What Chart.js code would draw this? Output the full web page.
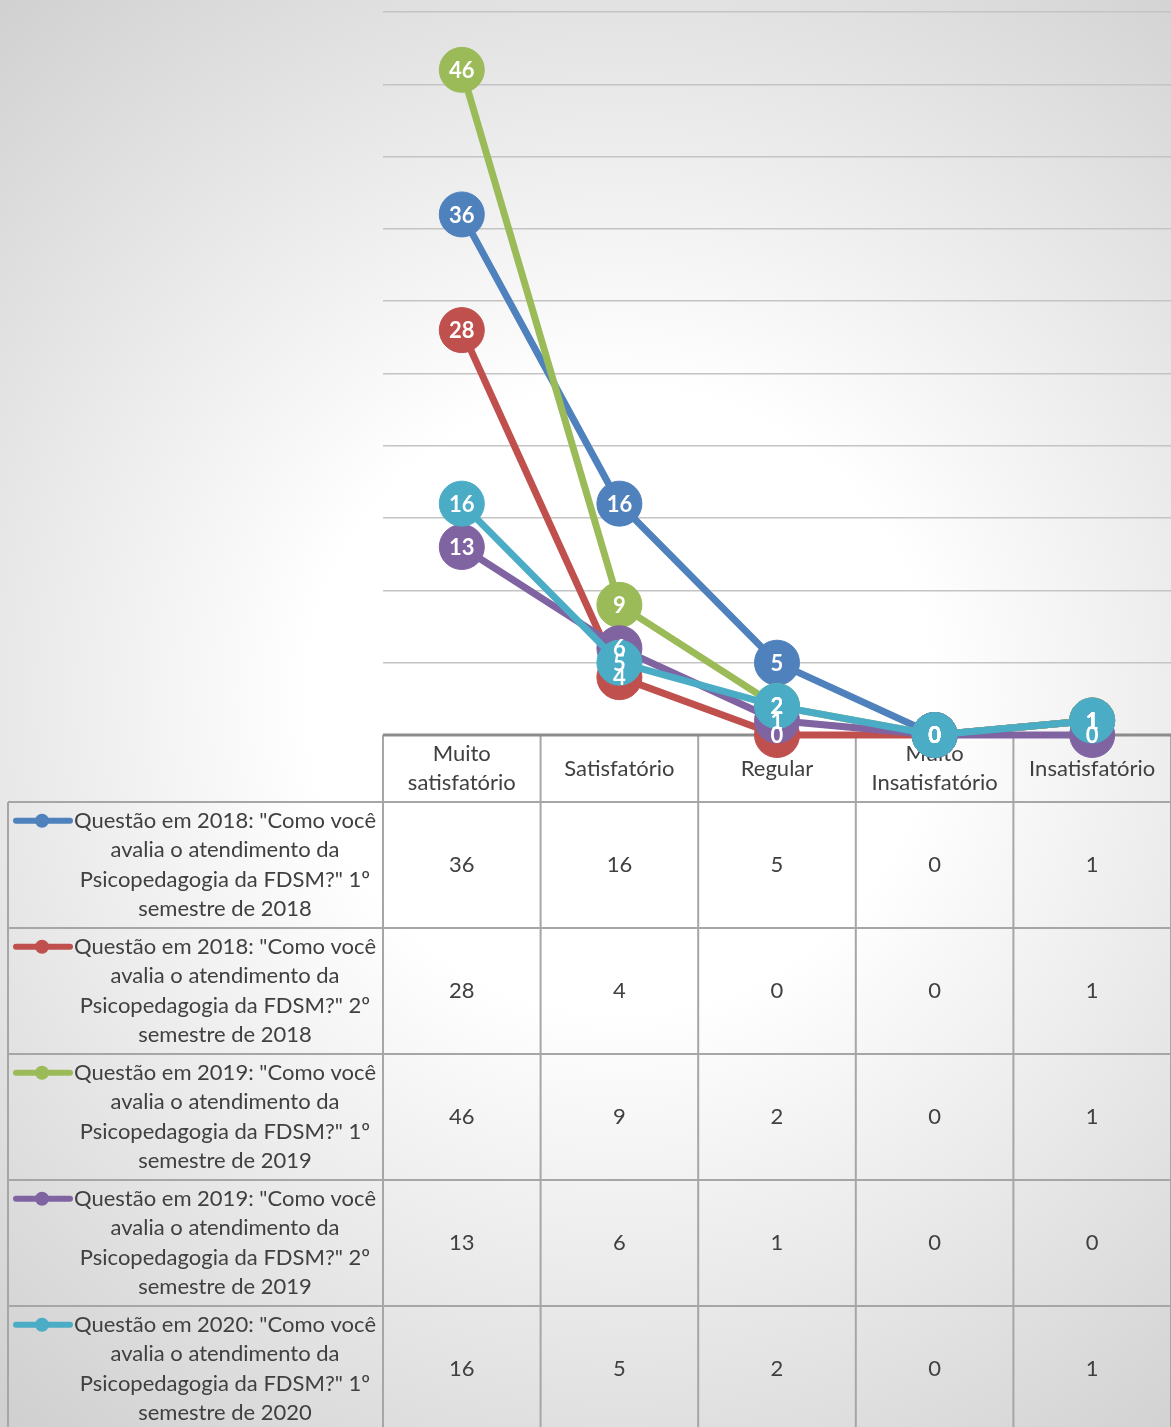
<!DOCTYPE html>
<html>
<head>
<meta charset="utf-8">
<script src="https://cdn.jsdelivr.net/npm/chart.js@4/dist/chart.umd.min.js"></script>
<style>
  body { margin: 0; background: #fff; }
  #wrap { width: 1171px; height: 1427px; }
</style>
</head>
<body>
<div id="wrap"><canvas id="chart" width="1171" height="1427"></canvas></div>
<script>
// Categories (header row of the data table)
const categories = [['Muito', 'satisfatório'], 'Satisfatório', 'Regular', ['Muito', 'Insatisfatório'], 'Insatisfatório'];

// Series names, wrapped as in the legend cells
const seriesNames = [
  ['Questão em 2018: "Como você', 'avalia o atendimento da', 'Psicopedagogia da FDSM?" 1º', 'semestre de 2018'],
  ['Questão em 2018: "Como você', 'avalia o atendimento da', 'Psicopedagogia da FDSM?" 2º', 'semestre de 2018'],
  ['Questão em 2019: "Como você', 'avalia o atendimento da', 'Psicopedagogia da FDSM?" 1º', 'semestre de 2019'],
  ['Questão em 2019: "Como você', 'avalia o atendimento da', 'Psicopedagogia da FDSM?" 2º', 'semestre de 2019'],
  ['Questão em 2020: "Como você', 'avalia o atendimento da', 'Psicopedagogia da FDSM?" 1º', 'semestre de 2020']
];

// Values per series
const sem1_2018 = [36, 16, 5, 0, 1];
const sem2_2018 = [28, 4, 0, 0, 1];
const sem1_2019 = [46, 9, 2, 0, 1];
const sem2_2019 = [13, 6, 1, 0, 0];
const sem1_2020 = [16, 5, 2, 0, 1];

const seriesValues = [sem1_2018, sem2_2018, sem1_2019, sem2_2019, sem1_2020];
const colors = ['#4f81bd', '#c0504d', '#9bbb59', '#8064a2', '#4bacc6'];

const FONT = 'Lato, "Open Sans", sans-serif';
const TEXT = '#404040';
const BORDER = '#a6a6a6';

// Soft radial background like the Office chart style
const backgroundPlugin = {
  id: 'bg',
  beforeDraw(chart) {
    const ctx = chart.ctx;
    const g = ctx.createRadialGradient(620, 700, 0, 620, 700, 940);
    g.addColorStop(0, '#ffffff');
    g.addColorStop(0.33, '#ffffff');
    g.addColorStop(1, '#d0d0d0');
    ctx.save();
    ctx.fillStyle = g;
    ctx.fillRect(0, 0, chart.width, chart.height);
    ctx.restore();
  }
};

// Data table under the plot (drawn before the lines so markers sit on top)
const tablePlugin = {
  id: 'dataTable',
  beforeDatasetsDraw(chart) {
    const ctx = chart.ctx;
    const area = chart.chartArea;
    const xs = chart.scales.x;
    const n = categories.length;
    const colW = (area.right - area.left) / n;
    const headTop = area.bottom;
    const headH = 67;
    const rowH = 126;
    const tableLeft = 8;
    const rowsTop = headTop + headH;

    ctx.save();
    ctx.strokeStyle = BORDER;
    ctx.lineWidth = 2;

    // horizontal rules
    for (let r = 0; r <= seriesValues.length; r++) {
      const y = rowsTop + r * rowH;
      ctx.beginPath();
      ctx.moveTo(tableLeft, y);
      ctx.lineTo(area.right, y);
      ctx.stroke();
    }
    // vertical rules
    ctx.beginPath();
    ctx.moveTo(tableLeft, rowsTop);
    ctx.lineTo(tableLeft, rowsTop + seriesValues.length * rowH);
    ctx.stroke();
    for (let c = 0; c <= n; c++) {
      const x = area.left + c * colW;
      ctx.beginPath();
      ctx.moveTo(x, headTop);
      ctx.lineTo(x, rowsTop + seriesValues.length * rowH);
      ctx.stroke();
    }
    // axis line
    ctx.strokeStyle = '#8c8c8c';
    ctx.lineWidth = 3;
    ctx.beginPath();
    ctx.moveTo(area.left, headTop);
    ctx.lineTo(area.right, headTop);
    ctx.stroke();

    ctx.fillStyle = TEXT;
    ctx.font = '22px ' + FONT;
    ctx.textAlign = 'center';
    ctx.textBaseline = 'middle';

    // header labels
    categories.forEach((cat, i) => {
      const lines = Array.isArray(cat) ? cat : [cat];
      const cx = xs.getPixelForValue(i);
      const cy = headTop + headH / 2;
      lines.forEach((ln, k) => {
        ctx.fillText(ln, cx, cy + (k - (lines.length - 1) / 2) * 29);
      });
    });

    // rows
    seriesValues.forEach((vals, r) => {
      const top = rowsTop + r * rowH;
      const cy = top + rowH / 2;
      const names = seriesNames[r];
      names.forEach((ln, k) => {
        ctx.fillStyle = TEXT;
        ctx.fillText(ln, 225, cy + (k - (names.length - 1) / 2) * 29.5);
      });
      // legend key
      const ky = cy - 1.5 * 29.5;
      ctx.strokeStyle = colors[r];
      ctx.lineWidth = 6;
      ctx.lineCap = 'round';
      ctx.beginPath();
      ctx.moveTo(16, ky);
      ctx.lineTo(70, ky);
      ctx.stroke();
      ctx.fillStyle = colors[r];
      ctx.beginPath();
      ctx.arc(42, ky, 7, 0, Math.PI * 2);
      ctx.fill();
      // values
      ctx.fillStyle = TEXT;
      vals.forEach((v, i) => {
        ctx.fillText(String(v), xs.getPixelForValue(i), cy);
      });
    });
    ctx.restore();
  }
};

// White value labels on the markers, drawn after every series
const labelPlugin = {
  id: 'pointLabels',
  afterDatasetsDraw(chart) {
    const ctx = chart.ctx;
    ctx.save();
    ctx.fillStyle = '#ffffff';
    ctx.font = 'bold 22px ' + FONT;
    ctx.textAlign = 'center';
    ctx.textBaseline = 'middle';
    chart.data.datasets.forEach((ds, i) => {
      chart.getDatasetMeta(i).data.forEach((pt, j) => {
        ctx.fillText(String(ds.data[j]), pt.x, pt.y + 1);
      });
    });
    ctx.restore();
  }
};

new Chart(document.getElementById('chart'), {
  type: 'line',
  data: {
    labels: categories,
    datasets: seriesValues.map((vals, i) => ({
      label: seriesNames[i].join(' '),
      data: vals,
      borderColor: colors[i],
      backgroundColor: colors[i],
      pointBackgroundColor: colors[i],
      pointBorderColor: colors[i],
      borderWidth: 7,
      pointRadius: 22.5,
      pointBorderWidth: 1,
      tension: 0,
      clip: false,
      order: seriesValues.length - i
    }))
  },
  options: {
    responsive: false,
    animation: false,
    events: [],
    layout: { autoPadding: false, padding: { left: 383, top: 12, right: 0, bottom: 692 } },
    plugins: {
      legend: { display: false },
      tooltip: { enabled: false }
    },
    scales: {
      x: {
        display: false,
        offset: true
      },
      y: {
        min: 0,
        max: 50,
        ticks: { display: false, stepSize: 5 },
        grid: { color: '#c4c4c4', lineWidth: 1.5, drawTicks: false },
        border: { display: false }
      }
    }
  },
  plugins: [backgroundPlugin, tablePlugin, labelPlugin]
});
</script>
</body>
</html>
